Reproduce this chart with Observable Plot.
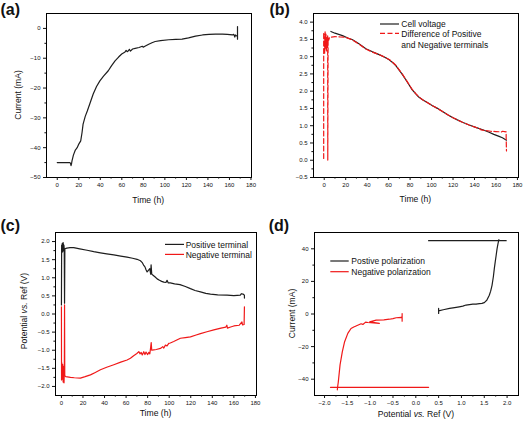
<!DOCTYPE html>
<html><head><meta charset="utf-8">
<script src="https://cdn.jsdelivr.net/npm/d3@7"></script>
<script src="https://cdn.jsdelivr.net/npm/@observablehq/plot@0.6"></script>
<style>
body{margin:0;background:#fff;}
#wrap{position:relative;width:524px;height:422px;overflow:hidden;background:#fff;font-family:"Liberation Sans",Arial,sans-serif;}
#overlay{position:absolute;left:0;top:0;pointer-events:none;}
</style></head><body><div id="wrap"></div>
<script>
// ---------- Panel (a): current vs time ----------
const aTime = [0,11.5,12.3,12.8,13.3,13.7,15,16.8,18.5,20,21.8,23,24,26,28,30.5,33.4,36.5,39.6,43,47.4,50.5,53.7,57,59.9,63,64,65,66.1,67,68,70,72.4,76,79,80,81,85,88,91,96,103.6,110,116,122,128.5,135,141,147,153.5,158,162.8,164,165,165.5,166.5,167.5,167.5,167.5];
const aCurrent = [-45,-45,-45.2,-46,-45.3,-44.4,-42.5,-40.8,-40,-38.8,-37.7,-35,-32.1,-29.5,-27.6,-25,-22,-19.5,-17.6,-16,-14.2,-12.5,-10.9,-9.6,-8.6,-7.9,-7.4,-7.8,-7.5,-7.0,-7.6,-6.9,-6.7,-6.4,-6.0,-6.3,-6.1,-5.3,-4.8,-4.4,-4.1,-3.8,-3.7,-3.6,-3.2,-2.6,-2.2,-2.0,-1.9,-1.9,-2.0,-2.2,-2.0,-2.9,-2.2,-2.5,-2.5,0.6,-3.6];

// ---------- Panel (b): cell voltage & difference ----------
const bCellTime = [6.2,10,17,22,26.4,32,38.8,45,51.2,56,60.5,64,66.7,70,72.9,76,79.1,82,85.3,88,91.6,96,100.9,105,110.2,115,119.5,124,128.8,135,141.2,147,153.6,158,162.9,166,169.8];
const bCellVolt = [3.73,3.68,3.61,3.54,3.49,3.38,3.23,3.14,3.06,2.99,2.91,2.82,2.74,2.60,2.48,2.33,2.18,2.04,1.92,1.83,1.75,1.67,1.58,1.51,1.41,1.32,1.24,1.17,1.10,1.02,0.95,0.89,0.81,0.75,0.69,0.65,0.58];
const bDiffTime = [-0.5,-0.5,0,0.4,0.8,1.2,1.6,2.0,2.4,2.8,3.2,3.3,3.6,4.2,5,10,15,20,25,26.4,32,38.8,45,51.2,56,60.5,64,66.7,70,72.9,76,79.1,82,85.3,88,91.6,96,100.9,105,110.2,115,119.5,124,128.8,135,141.2,145,146,148,150,155,160,165,166,168,169.5,169.5,169.8];
const bDiffVolt = [0.05,3.70,3.45,3.10,3.72,3.25,3.65,3.15,3.55,3.30,3.60,0.0,3.55,3.48,3.56,3.58,3.57,3.56,3.50,3.48,3.37,3.22,3.13,3.06,2.99,2.92,2.83,2.75,2.61,2.49,2.34,2.19,2.05,1.93,1.84,1.75,1.67,1.58,1.51,1.41,1.32,1.24,1.17,1.10,1.02,0.95,0.91,0.88,0.87,0.86,0.84,0.83,0.82,0.84,0.83,0.82,0.66,0.27];

// ---------- Panel (c): terminal potentials ----------
const cPosTime = [0,0.2,0.5,0.8,1.2,1.6,2.0,2.3,2.6,2.9,3.2,5,8,11.4,17,23.8,30,36.2,42,48.6,55,60.9,66,70.2,73.3,75,76.4,77.5,78.5,79.5,80.5,82,82.8,83.2,83.8,85,87,88.8,91,93,95,97,98,99,101,105,110,115,119.7,124,129,134,138.3,145,153.7,160,166,167,168.5,169.8,169.8];
const cPosPot = [0.25,1.90,1.70,1.95,1.72,1.97,1.75,1.90,1.80,0.30,1.80,1.82,1.83,1.83,1.80,1.76,1.72,1.69,1.66,1.63,1.60,1.57,1.54,1.51,1.47,1.42,1.34,1.30,1.22,1.16,1.20,1.25,1.10,1.36,1.10,1.07,1.02,0.97,0.93,0.90,0.88,0.87,0.93,0.86,0.86,0.83,0.81,0.76,0.70,0.65,0.61,0.57,0.55,0.53,0.52,0.51,0.52,0.56,0.55,0.52,0.44];
const cNegTime = [0,0.1,0.4,0.8,1.2,1.6,2.0,2.4,2.7,2.9,3.1,4,8.4,12,17.6,22,26.9,31,36.2,42,48.6,55,60.9,64,67,70,71.8,73,74,75,76.4,77.5,78.5,80,81,82,82.8,83.3,83.8,85.7,88,91.9,94,95,96.5,98,99.6,101,104.2,107,110.4,115,119.7,125,129,135,141.4,148,152.5,153.5,154,157,160,165,167.5,168,169.5,169.8];
const cNegPot = [0.20,-1.82,-1.35,-1.80,-1.40,-1.88,-1.45,-1.90,-1.55,0.25,-1.70,-1.73,-1.75,-1.76,-1.77,-1.73,-1.68,-1.62,-1.54,-1.47,-1.40,-1.33,-1.27,-1.22,-1.15,-1.09,-1.04,-1.10,-1.06,-1.13,-1.04,-1.12,-1.05,-1.12,-1.06,-1.10,-0.92,-0.79,-1.00,-0.99,-0.98,-0.95,-0.90,-0.94,-0.86,-0.88,-0.81,-0.80,-0.76,-0.72,-0.67,-0.65,-0.63,-0.58,-0.54,-0.49,-0.44,-0.39,-0.36,-0.31,-0.39,-0.36,-0.33,-0.31,-0.22,-0.30,-0.29,0.20];

// ---------- Panel (d): polarization ----------
const dPosPot = [0.50,0.50,0.50,0.60,0.74,0.85,0.95,1.03,1.10,1.175,1.25,1.32,1.394,1.45,1.50,1.555,1.61,1.64,1.67,1.70,1.72,1.74,1.76,1.78,1.80,1.82];
const dPosCur = [0.3,3.4,1.9,2.6,3.4,3.9,4.4,4.8,5.5,5.8,6.0,6.1,6.4,6.5,7.0,8.4,11.5,14,17.6,23,27.8,32,35.9,40,43,45.7];
const dPosHoldPot = [0.28,1.98];
const dPosHoldCur = [45,45];
const dNegPot = [-0.30,-0.30,-0.30,-0.32,-0.43,-0.50,-0.58,-0.70,-0.87,-1.01,-0.80,-1.05,-1.10,-1.16,-1.20,-1.31,-1.36,-1.42,-1.49,-1.56,-1.61,-1.66,-1.69,-1.70,-1.71,-1.72];
const dNegCur = [0.3,-4.4,-2.2,-2.1,-2.3,-2.8,-3.2,-3.6,-3.8,-4.8,-5.8,-5.2,-5.0,-6.4,-6.0,-7.4,-8.0,-8.9,-11.9,-17.0,-23.1,-31.2,-39.4,-42,-44,-46.5];
const dNegHoldPot = [-1.87,0.28];
const dNegHoldCur = [-45,-45];

// tick values
const aXTicks = [0,20,40,60,80,100,120,140,160,180];
const aYTicks = [-50,-40,-30,-20,-10,0];
const bYTicks = [-0.5,0,0.5,1,1.5,2,2.5,3,3.5,4];
const cYTicks = [-2,-1.5,-1,-0.5,0,0.5,1,1.5,2];
const dXTicks = [-2,-1.5,-1,-0.5,0,0.5,1,1.5,2];
const dYTicks = [-40,-20,0,20,40];

const BLACK = "#1e1e1e", RED = "#f01818";
const pts = (xs, ys) => xs.map((x, i) => ({x, y: ys[i]}));
const minors = (ticks) => ticks.slice(0, -1).map((t, i) => (t + ticks[i + 1]) / 2);

function panel(o) {
  const svg = Plot.plot({
    width: 262, height: 211,
    marginLeft: o.mL, marginTop: o.mT, marginRight: o.mR, marginBottom: o.mB,
    x: {domain: o.xDomain}, y: {domain: o.yDomain},
    style: {fontFamily: "'Liberation Sans', Arial, sans-serif", fontSize: "6px", background: "transparent", overflow: "visible", color: "#111"},
    marks: [
      ...o.marks,
      Plot.frame({stroke: "#000", strokeWidth: 1}),
      Plot.axisX(o.xTicks, {tickSize: 3, tickPadding: 2.5, tickFormat: o.xFmt, label: null}),
      Plot.axisX(minors(o.xTicks), {tickSize: 1.6, tickFormat: () => "", label: null}),
      Plot.axisY(o.yTicks, {tickSize: 3, tickPadding: 3, tickFormat: o.yFmt, label: null}),
      Plot.axisY(minors(o.yTicks), {tickSize: 1.6, tickFormat: () => "", label: null})
    ]
  });
  svg.style.position = "absolute";
  svg.style.left = o.left + "px";
  svg.style.top = o.top + "px";
  document.getElementById("wrap").appendChild(svg);
}

const fInt = d3.format("d"), f1 = d3.format(".1f");

panel({left: 0, top: 0, mL: 46, mT: 13, mR: 11, mB: 34,
  xDomain: [-10, 180.5], yDomain: [-50, 5],
  xTicks: aXTicks, yTicks: aYTicks, xFmt: fInt, yFmt: fInt,
  marks: [Plot.line(pts(aTime, aCurrent), {x: "x", y: "y", stroke: BLACK, strokeWidth: 1.2})]});

panel({left: 262, top: 0, mL: 51, mT: 13, mR: 6, mB: 34,
  xDomain: [-10, 181], yDomain: [-0.5, 4.25],
  xTicks: aXTicks, yTicks: bYTicks, xFmt: fInt, yFmt: f1,
  marks: [
    Plot.line(pts(bCellTime, bCellVolt), {x: "x", y: "y", stroke: BLACK, strokeWidth: 1.2}),
    Plot.line(pts(bDiffTime, bDiffVolt), {x: "x", y: "y", stroke: RED, strokeWidth: 1.2, strokeDasharray: "5,2.5"})
  ]});

panel({left: 0, top: 211, mL: 55, mT: 21, mR: 6, mB: 27,
  xDomain: [-5.5, 181], yDomain: [-2.25, 2.25],
  xTicks: aXTicks, yTicks: cYTicks, xFmt: fInt, yFmt: f1,
  marks: [
    Plot.line(pts(cPosTime, cPosPot), {x: "x", y: "y", stroke: BLACK, strokeWidth: 1.2}),
    Plot.line(pts(cNegTime, cNegPot), {x: "x", y: "y", stroke: RED, strokeWidth: 1.2})
  ]});

panel({left: 262, top: 211, mL: 52, mT: 21, mR: 6, mB: 27,
  xDomain: [-2.22, 2.25], yDomain: [-50, 50],
  xTicks: dXTicks, yTicks: dYTicks, xFmt: f1, yFmt: fInt,
  marks: [
    Plot.line(pts(dPosHoldPot, dPosHoldCur), {x: "x", y: "y", stroke: BLACK, strokeWidth: 1.2}),
    Plot.line(pts(dPosPot, dPosCur), {x: "x", y: "y", stroke: BLACK, strokeWidth: 1.2}),
    Plot.line(pts(dNegHoldPot, dNegHoldCur), {x: "x", y: "y", stroke: RED, strokeWidth: 1.2}),
    Plot.line(pts(dNegPot, dNegCur), {x: "x", y: "y", stroke: RED, strokeWidth: 1.2})
  ]});

// overlay: panel letters, axis titles, legends
const ov = `
<svg id="overlay" width="524" height="422" xmlns="http://www.w3.org/2000/svg" font-family="'Liberation Sans', Arial, sans-serif" fill="#111">
  <g font-size="16" font-weight="bold">
    <text x="0.5" y="14.6">(a)</text>
    <text x="269.5" y="14.6">(b)</text>
    <text x="0.5" y="231">(c)</text>
    <text x="268.7" y="231">(d)</text>
  </g>
  <g font-size="8.6" text-anchor="middle">
    <text x="148.2" y="202.8">Time (h)</text>
    <text x="415.4" y="201.5">Time (h)</text>
    <text x="155.5" y="416">Time (h)</text>
    <text x="416" y="416.5">Potential <tspan font-style="italic">vs.</tspan> Ref (V)</text>
    <text transform="translate(21.3,95) rotate(-90)">Current (mA)</text>
    <text transform="translate(26.5,311) rotate(-90)">Potential <tspan font-style="italic">vs.</tspan> Ref (V)</text>
    <text transform="translate(294.5,313.5) rotate(-90)">Current (mA)</text>
  </g>
  <g font-size="8.5">
    <line x1="380" x2="399" y1="24" y2="24" stroke="${BLACK}" stroke-width="1.2"/>
    <text x="401.3" y="27">Cell voltage</text>
    <line x1="380" x2="399" y1="33.3" y2="33.3" stroke="${RED}" stroke-width="1.2" stroke-dasharray="5,2.5"/>
    <text x="401.3" y="37.3">Difference of Positive</text>
    <text x="401.3" y="48">and Negative terminals</text>

    <line x1="165" x2="184" y1="244.4" y2="244.4" stroke="${BLACK}" stroke-width="1.2"/>
    <text x="185.7" y="247.6">Positive terminal</text>
    <line x1="165" x2="184" y1="254.4" y2="254.4" stroke="${RED}" stroke-width="1.2"/>
    <text x="185.7" y="257.6">Negative terminal</text>

    <line x1="330.3" x2="348.7" y1="261" y2="261" stroke="${BLACK}" stroke-width="1.2"/>
    <text x="351.3" y="264.2">Postive polarization</text>
    <line x1="330.3" x2="348.7" y1="271.7" y2="271.7" stroke="${RED}" stroke-width="1.2"/>
    <text x="351.3" y="274.9">Negative polarization</text>
  </g>
</svg>`;
document.getElementById("wrap").insertAdjacentHTML("beforeend", ov);
</script></body></html>
